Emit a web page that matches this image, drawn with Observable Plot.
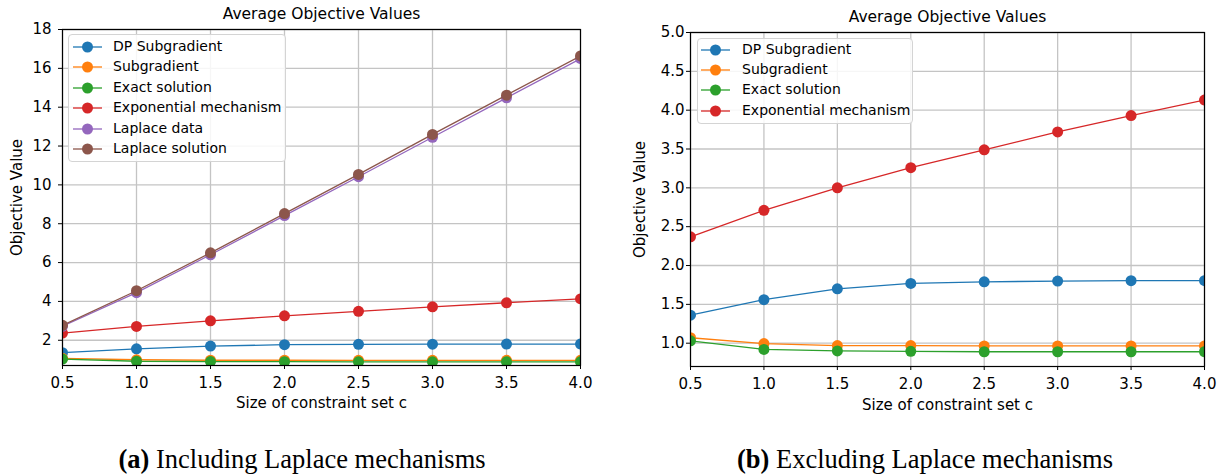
<!DOCTYPE html>
<html>
<head>
<meta charset="utf-8">
<script src="https://cdn.jsdelivr.net/npm/d3@7"></script>
<script src="https://cdn.jsdelivr.net/npm/@observablehq/plot@0.6"></script>
<style>
  html, body { margin: 0; padding: 0; background: white; }
  #root { position: relative; width: 1229px; height: 475px; overflow: hidden; font-family: "DejaVu Sans", sans-serif; }
  .chart { position: absolute; top: 0; }
  .legend { position: absolute; border: 1px solid #d4d4d4; border-radius: 4px; background: rgba(255,255,255,0.85); box-sizing: border-box; }
  .lrow { position: absolute; font-size: 14px; line-height: 1; white-space: nowrap; }
  .caption { position: absolute; font-family: "Liberation Serif", serif; font-size: 26.5px; white-space: nowrap; transform: translate(-50%, -50%); }
</style>
</head>
<body>
<div id="root"></div>
<script>
// ---- data ----
const xValues = [0.5, 1.0, 1.5, 2.0, 2.5, 3.0, 3.5, 4.0];
const seriesNames = ["DP Subgradient", "Subgradient", "Exact solution", "Exponential mechanism", "Laplace data", "Laplace solution"];
const seriesColors = ["#1f77b4", "#ff7f0e", "#2ca02c", "#d62728", "#9467bd", "#8c564b"];
const dpSubgradient = [1.36, 1.56, 1.70, 1.77, 1.79, 1.80, 1.805, 1.805];
const subgradient = [1.07, 0.995, 0.97, 0.97, 0.965, 0.965, 0.965, 0.965];
const exactSolution = [1.03, 0.92, 0.90, 0.895, 0.89, 0.89, 0.89, 0.89];
const exponentialMechanism = [2.37, 2.71, 3.00, 3.26, 3.49, 3.72, 3.93, 4.13];
const laplaceData = [2.72, 4.45, 6.40, 8.42, 10.42, 12.45, 14.48, 16.50];
const laplaceSolution = [2.77, 4.55, 6.50, 8.52, 10.54, 12.60, 14.62, 16.64];
const xTicks = [0.5, 1.0, 1.5, 2.0, 2.5, 3.0, 3.5, 4.0];
const yTicksA = [2, 4, 6, 8, 10, 12, 14, 16, 18];
const yTicksB = [1.0, 1.5, 2.0, 2.5, 3.0, 3.5, 4.0, 4.5, 5.0];
const titleText = "Average Objective Values";
const xLabelText = "Size of constraint set c";
const yLabelText = "Objective Value";
const captionA = ["(a)", "Including Laplace mechanisms"];
const captionB = ["(b)", "Excluding Laplace mechanisms"];

const allSeries = [dpSubgradient, subgradient, exactSolution, exponentialMechanism, laplaceData, laplaceSolution];
function table(indices) {
  return indices.map(i => xValues.map((x, j) => ({x, y: allSeries[i][j], series: seriesNames[i]})));
}

const root = document.getElementById("root");
const gridStroke = "#c4c4c4";

function makeChart(opts) {
  const data = table(opts.series);
  const marks = [
    Plot.gridX(xTicks, {stroke: gridStroke, strokeOpacity: 1, strokeWidth: 1.3}),
    Plot.gridY(opts.yTicks, {stroke: gridStroke, strokeOpacity: 1, strokeWidth: 1.3}),
  ];
  data.forEach((rows, k) => {
    const c = seriesColors[opts.series[k]];
    marks.push(Plot.line(rows, {x: "x", y: "y", stroke: c, strokeWidth: 1.3, clip: true}));
    marks.push(Plot.dot(rows, {x: "x", y: "y", fill: c, r: 5.5, clip: true}));
  });
  marks.push(
    Plot.axisX(xTicks, {tickSize: 4, tickPadding: 8, tickFormat: d3.format(".1f"), fontSize: 15, label: null}),
    Plot.axisY(opts.yTicks, {tickSize: 4, tickPadding: opts.yPad, tickFormat: opts.yFormat, fontSize: 15, label: null}),
    Plot.frame({stroke: "black", strokeWidth: 1.2}),
    Plot.text([titleText], {frameAnchor: "top", lineAnchor: "middle", textAnchor: "middle", dy: opts.titleDy, fontSize: 15.5}),
    Plot.text([xLabelText], {frameAnchor: "bottom", lineAnchor: "middle", textAnchor: "middle", dy: opts.xLabelDy, fontSize: 15}),
    Plot.text([yLabelText], {frameAnchor: "left", lineAnchor: "middle", textAnchor: "middle", dx: opts.yLabelDx, rotate: -90, fontSize: 15})
  );
  const svg = Plot.plot({
    width: opts.width, height: 420,
    marginLeft: opts.ml, marginRight: opts.mr, marginTop: opts.mt, marginBottom: 420 - opts.bottom,
    x: {domain: [0.5, 4.0]},
    y: {domain: opts.yDomain},
    style: {fontFamily: "DejaVu Sans", color: "black", background: "transparent", overflow: "visible"},
    marks
  });
  const wrap = document.createElement("div");
  wrap.className = "chart";
  wrap.style.left = opts.left + "px";
  wrap.appendChild(svg);
  root.appendChild(wrap);
}

function makeLegend(o) {
  const box = document.createElement("div");
  box.className = "legend";
  Object.assign(box.style, {left: o.left + "px", top: o.top + "px", width: o.width + "px", height: o.height + "px"});
  root.appendChild(box);
  o.series.forEach((si, k) => {
    const cy = o.row0 + k * o.gap;
    const sw = document.createElementNS("http://www.w3.org/2000/svg", "svg");
    sw.setAttribute("width", 32); sw.setAttribute("height", 14);
    sw.style.position = "absolute";
    sw.style.left = (o.lineX - 1) + "px";
    sw.style.top = (cy - 7) + "px";
    sw.innerHTML = `<line x1="1" x2="30" y1="7" y2="7" stroke="${seriesColors[si]}" stroke-width="1.3"/><circle cx="15.5" cy="7" r="5.5" fill="${seriesColors[si]}"/>`;
    root.appendChild(sw);
    const t = document.createElement("div");
    t.className = "lrow";
    t.textContent = seriesNames[si];
    t.style.left = o.textX + "px";
    t.style.top = (cy - 8) + "px";
    root.appendChild(t);
  });
}

function makeCaption(parts, cx, cy) {
  const d = document.createElement("div");
  d.className = "caption";
  d.style.left = cx + "px"; d.style.top = cy + "px";
  const b = document.createElement("b");
  b.textContent = parts[0];
  d.appendChild(b);
  d.appendChild(document.createTextNode(" " + parts[1]));
  root.appendChild(d);
}

// Left panel (a)
makeChart({
  left: 0, width: 614, ml: 62, mr: 34, mt: 29, bottom: 365,
  yDomain: [0.7, 18], yTicks: yTicksA, yFormat: d3.format("d"), yPad: 7,
  yLabelDx: -45, titleDy: -15, xLabelDy: 38,
  series: [0, 1, 2, 3, 4, 5]
});
// Right panel (b)
makeChart({
  left: 614, width: 615, ml: 76, mr: 25, mt: 32, bottom: 366,
  yDomain: [0.7, 5.0], yTicks: yTicksB, yFormat: d3.format(".1f"), yPad: 2,
  yLabelDx: -50, titleDy: -15.5, xLabelDy: 38.5,
  series: [0, 1, 2, 3]
});

makeLegend({left: 68, top: 34, width: 218, height: 128, series: [0, 1, 2, 3, 4, 5], row0: 46.7, gap: 20.5, lineX: 73, textX: 113});
makeLegend({left: 697, top: 38, width: 216, height: 86, series: [0, 1, 2, 3], row0: 50, gap: 20.2, lineX: 701, textX: 742});

makeCaption(captionA, 302, 459);
makeCaption(captionB, 925, 459);
</script>
</body>
</html>
